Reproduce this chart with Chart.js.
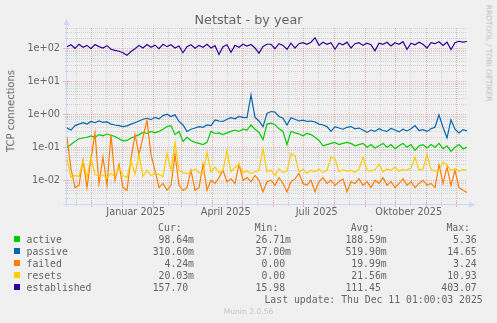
<!DOCTYPE html>
<html>
<head>
<meta charset="utf-8">
<title>Netstat - by year</title>
<script src="https://cdn.jsdelivr.net/npm/chart.js@4.4.1/dist/chart.umd.min.js"></script>
<style>
  html, body { margin: 0; padding: 0; background: #f0f0f0; }
  #graph { position: relative; width: 497px; height: 323px; overflow: hidden; font-family: 'DejaVu Sans', sans-serif; color: #666; }
  #netstatChart { position: absolute; left: 0; top: 0; width: 497px; height: 323px; }
  .title { position: absolute; left: 0; top: 11.5px; width: 497px; text-align: center; font-size: 12.8px; line-height: 16px; }
  .rot { position: absolute; white-space: nowrap; line-height: 1.164; }
  .ylabel { left: 11px; top: 110.5px; font-size: 10px; transform: translate(-50%, -50%) rotate(-90deg); }
  .credit { left: 488px; top: 53px; font-size: 7.5px; color: #bcbcbc; transform: translate(-50%, -50%) rotate(90deg); }
  .legend span { position: absolute; white-space: pre; font-family: 'DejaVu Sans Mono', monospace; font-size: 9.8px; line-height: 12px; }
  .legend i { position: absolute; width: 6px; height: 6px; }
  .version { position: absolute; left: 0; width: 497px; top: 307.4px; text-align: center; font-size: 7.6px; line-height: 10px; color: #c4c4c4; }
</style>
</head>
<body>
<div id="graph">
  <canvas id="netstatChart" width="497" height="323"></canvas>
  <div class="title">Netstat - by year</div>
  <div class="rot ylabel">TCP connections</div>
  <div class="rot credit">RRDTOOL / TOBI OETIKER</div>
  <div class="legend" id="legend"></div>
  <div class="version">Munin 2.0.56</div>
</div>
<script>
// one sample every four days, counted from originDate
const originDate = '2024-11-07';
const firstSample = 0.3;
const sampleStep = 4;
const lastSample = 400.3;

const active = [
  0.1, 0.12, 0.15, 0.18, 0.19, 0.2, 0.22, 0.2, 0.24, 0.22,
  0.25, 0.23, 0.21, 0.18, 0.155, 0.16, 0.19, 0.21, 0.24, 0.28,
  0.26, 0.3, 0.27, 0.3, 0.35, 0.42, 0.45, 0.24, 0.3, 0.15,
  0.2, 0.16, 0.14, 0.13, 0.12, 0.14, 0.3, 0.26, 0.27, 0.24,
  0.27, 0.3, 0.33, 0.3, 0.35, 0.33, 0.47, 0.35, 0.28, 0.17,
  0.5, 0.53, 0.48, 0.36, 0.3, 0.12, 0.3, 0.27, 0.25, 0.22,
  0.26, 0.24, 0.2, 0.16, 0.11, 0.12, 0.13, 0.14, 0.12, 0.13,
  0.14, 0.13, 0.11, 0.12, 0.13, 0.1, 0.12, 0.095, 0.11, 0.13,
  0.1, 0.12, 0.09, 0.11, 0.13, 0.1, 0.12, 0.08, 0.11, 0.12,
  0.095, 0.12, 0.1, 0.13, 0.09, 0.11, 0.075, 0.1, 0.12, 0.09,
  0.0986
];
const passive = [
  0.38, 0.33, 0.45, 0.5, 0.55, 0.5, 0.6, 0.55, 0.62, 0.56,
  0.58, 0.5, 0.47, 0.45, 0.42, 0.44, 0.5, 0.55, 0.62, 0.7,
  0.75, 0.68, 0.8, 0.72, 0.9, 1.0, 0.85, 0.95, 0.6, 0.47,
  0.3, 0.35, 0.38, 0.42, 0.4, 0.47, 0.45, 0.67, 0.62, 0.6,
  0.7, 0.78, 0.72, 0.85, 0.8, 0.78, 3.8, 0.8, 0.62, 0.42,
  1.05, 1.2, 1.15, 0.85, 0.75, 0.47, 0.78, 0.7, 0.62, 0.66,
  0.6, 0.62, 0.58, 0.5, 0.47, 0.42, 0.3, 0.42, 0.38, 0.35,
  0.4, 0.42, 0.36, 0.38, 0.33, 0.28, 0.33, 0.3, 0.36, 0.32,
  0.3, 0.37, 0.33, 0.29, 0.35, 0.31, 0.36, 0.45, 0.32, 0.34,
  0.3, 0.36, 0.4, 0.95, 0.4, 0.19, 0.67, 0.35, 0.27, 0.34,
  0.3106
];
const failed = [
  0.2, 0.022, 0.006, 0.007, 0.04, 0.006, 0.045, 0.27, 0.008, 0.05,
  0.007, 0.24, 0.01, 0.03, 0.006, 0.005, 0.045, 0.24, 0.06, 0.2,
  0.65, 0.06, 0.02, 0.006, 0.008, 0.005, 0.007, 0.06, 0.007, 0.005,
  0.006, 0.02, 0.005, 0.006, 0.03, 0.005, 0.01, 0.008, 0.012, 0.02,
  0.009, 0.011, 0.008, 0.03, 0.01, 0.012, 0.009, 0.014, 0.01, 0.0045,
  0.009, 0.01, 0.007, 0.012, 0.008, 0.0045, 0.009, 0.011, 0.016, 0.008,
  0.007, 0.01, 0.0045, 0.009, 0.012, 0.008, 0.01, 0.007, 0.009, 0.011,
  0.0045, 0.009, 0.008, 0.011, 0.007, 0.009, 0.006, 0.01, 0.008, 0.012,
  0.007, 0.009, 0.006, 0.008, 0.011, 0.007, 0.009, 0.006, 0.008, 0.01,
  0.007, 0.008, 0.006, 0.029, 0.008, 0.025, 0.007, 0.02, 0.006, 0.005,
  0.00424
];
const resets = [
  0.045, 0.012, 0.014, 0.013, 0.04, 0.012, 0.05, 0.015, 0.013, 0.014,
  0.012, 0.016, 0.013, 0.025, 0.014, 0.012, 0.04, 0.015, 0.06, 0.013,
  0.02, 0.014, 0.016, 0.015, 0.013, 0.065, 0.02, 0.14, 0.02, 0.017,
  0.016, 0.018, 0.022, 0.017, 0.016, 0.07, 0.018, 0.025, 0.017, 0.02,
  0.08, 0.018, 0.025, 0.03, 0.017, 0.019, 0.016, 0.018, 0.02, 0.09,
  0.018, 0.02, 0.014, 0.022, 0.017, 0.019, 0.065, 0.055, 0.018, 0.021,
  0.016, 0.02, 0.018, 0.022, 0.017, 0.02, 0.05, 0.045, 0.018, 0.021,
  0.019, 0.02, 0.017, 0.022, 0.05, 0.02, 0.019, 0.021, 0.03, 0.018,
  0.022, 0.02, 0.025, 0.019, 0.021, 0.02, 0.023, 0.05, 0.02, 0.022,
  0.06, 0.021, 0.019, 0.02, 0.035, 0.029, 0.02, 0.022, 0.019, 0.021,
  0.02003
];
const established = [
  110, 125, 98, 130, 105, 120, 95, 128, 110, 100,
  118, 92, 85, 80, 72, 60, 78, 95, 120, 100,
  128, 105, 122, 96, 130, 110, 125, 100, 115, 72,
  110, 125, 98, 120, 105, 130, 100, 118, 64, 110,
  125, 74, 120, 105, 130, 115, 128, 100, 70, 112,
  130, 130, 95, 135, 120, 92, 140, 100, 135, 145,
  130, 150, 205, 120, 150, 130, 145, 92, 140, 125,
  150, 100, 135, 145, 120, 140, 125, 82, 140, 130,
  150, 115, 145, 130, 155, 92, 140, 125, 150, 130,
  100, 145, 135, 155, 120, 150, 90, 145, 160, 150,
  157.7
];

const seriesNames = ['active', 'passive', 'failed', 'resets', 'established'];
const seriesColors = ['#00cc00', '#0066b3', '#ff8000', '#ffcc00', '#330099'];
const curText = ['98.64m', '310.60m', '4.24m', '20.03m', '157.70 '];
const minText = ['26.71m', '37.00m', '0.00 ', '0.00 ', '15.98 '];
const avgText = ['188.59m', '519.90m', '19.99m', '21.56m', '111.45 '];
const maxText = ['5.36', '14.65', '3.24', '10.93', '403.07'];
const lastUpdate = 'Last update: Thu Dec 11 01:00:03 2025';

const xTickDates = ['2025-01-15', '2025-04-15', '2025-07-15', '2025-10-15'];
const xTickLabels = ['Januar 2025', 'April 2025', 'Juli 2025', 'Oktober 2025'];
const yTickValues = [0.01, 0.1, 1, 10, 100];
const yMin = 0.00205;
const yMax = 403.07;

const minorGrid = 'rgba(170,170,170,0.42)';
const majorGrid = 'rgba(222,79,79,0.38)';
const axisColor = '#cfd6f8';

const dayOf = s => (Date.parse(s + 'T00:00:00Z') - Date.parse(originDate + 'T00:00:00Z')) / 864e5;
const toPoints = values => values.map((v, i) => ({ x: firstSample + i * sampleStep, y: v }));

// day offsets of a given day-of-month across the visible range
function monthDays(dayOfMonth) {
  const out = [];
  for (let m = 10; m <= 23; m++) {
    const iso = new Date(Date.UTC(2024, m, dayOfMonth)).toISOString().slice(0, 10);
    const d = dayOf(iso);
    if (d >= firstSample && d <= lastSample) out.push(d);
  }
  return out;
}

function logLabel(v) {
  const e = Math.round(Math.log10(v));
  return '1e' + (e < 0 ? '-' : '+') + String(Math.abs(e)).padStart(2, '0');
}

// rrdtool-like dotted grid, axis ticks and arrows
const rrdGrid = {
  id: 'rrdGrid',
  beforeDatasetsDraw(chart) {
    const { ctx, chartArea: a, scales: { x, y } } = chart;
    const line = (x0, y0, x1, y1) => { ctx.beginPath(); ctx.moveTo(x0, y0); ctx.lineTo(x1, y1); ctx.stroke(); };
    const px = d => Math.round(x.getPixelForValue(d)) + 0.5;
    const py = v => Math.round(y.getPixelForValue(v)) + 0.5;
    const minorValues = [];
    for (let e = -3; e <= 2; e++) {
      for (let m = 2; m <= 9; m++) {
        const v = m * Math.pow(10, e);
        if (v > yMin && v < yMax) minorValues.push(v);
      }
    }
    ctx.save();
    ctx.lineWidth = 1;
    ctx.setLineDash([1, 1]);
    ctx.strokeStyle = minorGrid;
    minorValues.forEach(v => line(a.left, py(v), a.right, py(v)));
    monthDays(16).forEach(d => line(px(d), a.top, px(d), a.bottom));
    ctx.strokeStyle = majorGrid;
    yTickValues.forEach(v => line(a.left, py(v), a.right, py(v)));
    monthDays(1).forEach(d => line(px(d), a.top, px(d), a.bottom));

    ctx.setLineDash([]);
    ctx.strokeStyle = minorGrid;
    monthDays(16).forEach(d => line(px(d), a.bottom - 1, px(d), a.bottom + 3));
    minorValues.forEach(v => line(a.left - 2, py(v), a.left + 1, py(v)));
    ctx.strokeStyle = majorGrid;
    monthDays(1).forEach(d => line(px(d), a.bottom - 1, px(d), a.bottom + 4));
    yTickValues.forEach(v => line(a.left - 4, py(v), a.left + 2, py(v)));

    ctx.strokeStyle = axisColor;
    ctx.fillStyle = axisColor;
    const ax = a.left - 0.5, ay = a.bottom + 1.5;
    line(ax, a.bottom + 4, ax, a.top - 5);
    line(a.left - 4, ay, a.right + 3, ay);
    ctx.beginPath();
    ctx.moveTo(ax, a.top - 9); ctx.lineTo(ax - 3, a.top - 3); ctx.lineTo(ax + 3, a.top - 3); ctx.closePath(); ctx.fill();
    ctx.beginPath();
    ctx.moveTo(a.right + 8, ay); ctx.lineTo(a.right + 2, ay - 3); ctx.lineTo(a.right + 2, ay + 3); ctx.closePath(); ctx.fill();
    ctx.restore();
  }
};

const seriesValues = [active, passive, failed, resets, established];
const tickFont = { family: 'DejaVu Sans', size: 9.7 };

new Chart(document.getElementById('netstatChart'), {
  type: 'line',
  data: {
    datasets: seriesNames.map((name, i) => ({
      label: name,
      data: toPoints(seriesValues[i]),
      borderColor: seriesColors[i],
      borderWidth: 1.2,
      pointRadius: 0,
      tension: 0,
      fill: false,
      order: seriesNames.length - i
    }))
  },
  options: {
    responsive: false,
    animation: false,
    devicePixelRatio: 1,
    layout: { padding: { left: 0, right: 30, top: 28, bottom: 0 } },
    plugins: { legend: { display: false }, tooltip: { enabled: false }, title: { display: false } },
    scales: {
      x: {
        type: 'linear',
        min: firstSample,
        max: lastSample,
        grid: { display: false, drawTicks: false },
        border: { display: false },
        afterBuildTicks: s => { s.ticks = xTickDates.map(d => ({ value: dayOf(d) })); },
        afterFit: s => { s.height = 120; },
        ticks: {
          autoSkip: false,
          maxRotation: 0,
          padding: 4,
          color: '#666',
          font: tickFont,
          callback: (v, i) => xTickLabels[i]
        }
      },
      y: {
        type: 'logarithmic',
        min: yMin,
        max: yMax,
        grid: { display: false, drawTicks: false },
        border: { display: false },
        afterBuildTicks: s => { s.ticks = yTickValues.map(v => ({ value: v })); },
        afterFit: s => { s.width = 67; },
        ticks: {
          padding: 7,
          color: '#666',
          font: tickFont,
          callback: v => logLabel(v)
        }
      }
    }
  },
  plugins: [rrdGrid]
});

// legend table below the graph
const legend = document.getElementById('legend');
const W = 497;
function addText(text, x, baseline, alignRight) {
  const s = document.createElement('span');
  s.textContent = text;
  s.style.top = (baseline - 9.4) + 'px';
  if (alignRight) s.style.right = (W - x) + 'px';
  else s.style.left = x + 'px';
  legend.appendChild(s);
}
const headerBaseline = 231;
const rowGap = 12;
addText('Cur:', 181.7, headerBaseline, true);
addText('Min:', 278.3, headerBaseline, true);
addText('Avg:', 374.3, headerBaseline, true);
addText('Max:', 470, headerBaseline, true);
seriesNames.forEach((name, i) => {
  const b = headerBaseline + rowGap * (i + 1);
  const sw = document.createElement('i');
  sw.style.left = '14px';
  sw.style.top = (b - 6.7) + 'px';
  sw.style.background = seriesColors[i];
  legend.appendChild(sw);
  addText(name, 26.5, b, false);
  addText(curText[i], 194, b, true);
  addText(minText[i], 291, b, true);
  addText(avgText[i], 386.7, b, true);
  addText(maxText[i], 476.7, b, true);
});
addText(lastUpdate, 482.7, headerBaseline + rowGap * 6, true);
</script>
</body>
</html>
